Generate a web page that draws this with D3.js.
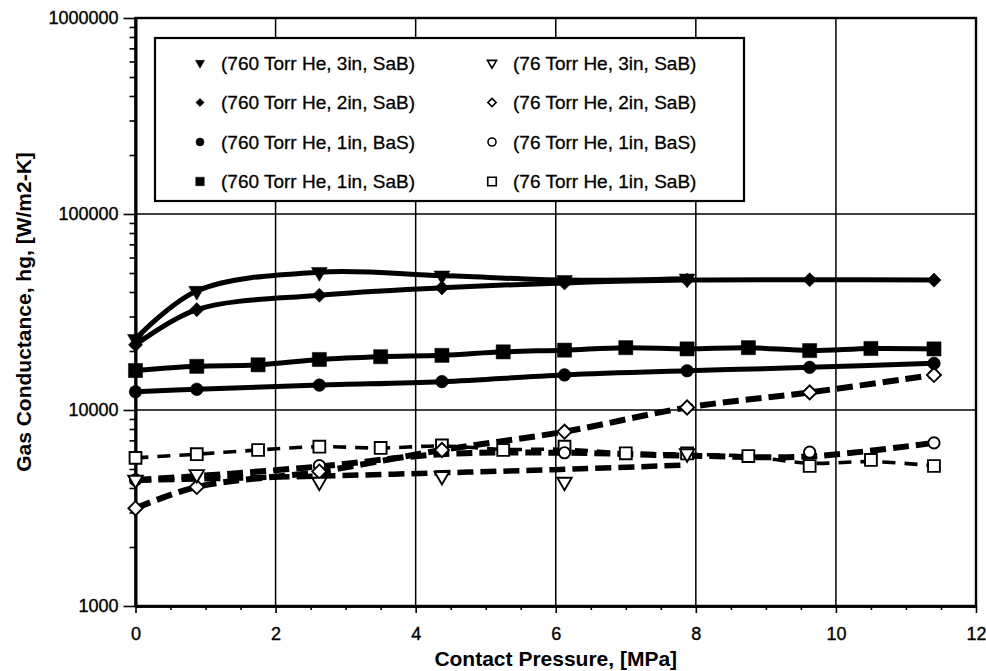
<!DOCTYPE html>
<html>
<head>
<meta charset="utf-8">
<script src="https://cdn.jsdelivr.net/npm/d3@7/dist/d3.min.js"></script>
<style>
  html, body { margin: 0; padding: 0; background: #fff; }
  svg { display: block; }
  text { font-family: "Liberation Sans", Arial, sans-serif; fill: #000; }
</style>
</head>
<body>
<script>
// Contact pressure sampling points, MPa
const pressureFine   = [0, 0.875, 1.75, 2.625, 3.5, 4.375, 5.25, 6.125, 7, 7.875, 8.75, 9.625, 10.5, 11.4];
const pressureCoarse = [0, 0.875, 2.625, 4.375, 6.125, 7.875, 9.625, 11.4];

// Gas conductance hg, W/m2-K — 760 Torr helium
const hg760_3in_SaB = [23000, 40500, 50500, 48500, 46000, 46800];
const hg760_2in_SaB = [21500, 32500, 38500, 42000, 44500, 46000, 46200, 46000];
const hg760_1in_BaS = [12400, 12750, 13400, 13950, 15100, 15850, 16500, 17300];
const hg760_1in_SaB = [15900, 16700, 17000, 18100, 18700, 19000, 19800, 20200, 20800, 20500, 20800, 20100, 20600, 20500];

// 76 Torr helium (measured points)
const hg76_3in_SaB = [4400, 4700, 4300, 4600, 4300, 6000];
const hg76_2in_SaB = [3150, 4050, 4850, 6250, 7750, 10300, 12300, 15100];
const hg76_1in_BaS = [4400, null, 5200, null, 6050, null, 6100, 6800];
const hg76_1in_SaB = [5700, 5950, 6250, 6500, 6400, 6600, 6250, 6500, 6010, 6000, 5820, 5180, 5560, 5180];

// 76 Torr helium (fitted curves)
const fit76_3in_SaB = [4380, 4450, 4600, 4780, 4980, 5240];
const fit76_2in_SaB = [3150, 4050, 4850, 6250, 7750, 10300, 12300, 15100];
const fit76_1in_BaS = [4400, 4600, 5150, 5950, 6050, 5850, 5800, 6800];
const fit76_1in_SaB = [5700, 5950, 6250, 6500, 6400, 6550, 6300, 6300, 6050, 5950, 5800, 5350, 5450, 5200];

// Axis ticks
const xTicks = [0, 2, 4, 6, 8, 10, 12];
const yTicks = [1000, 10000, 100000, 1000000];

const W = 986, H = 671;
const svg = d3.select("body").append("svg").attr("width", W).attr("height", H);
svg.append("rect").attr("width", W).attr("height", H).attr("fill", "#fff");

const x = d3.scaleLinear().domain([0, 12]).range([135.5, 976]);
const y = d3.scaleLog().domain([1000, 1000000]).range([606, 18]);

function pts(xs, ys) { return ys.map((v, i) => ({ x: xs[i], y: v })).filter(d => d.y != null); }

// series table: values + how each one is drawn
const series = [
  { name: "(76 Torr He, 1in, SaB)",  pts: pts(pressureFine, hg76_1in_SaB),   fit: pts(pressureFine, fit76_1in_SaB),   shape: "square",   filled: false, dash: "13,9", lw: 3.6 },
  { name: "(76 Torr He, 1in, BaS)",  pts: pts(pressureCoarse, hg76_1in_BaS), fit: pts(pressureCoarse, fit76_1in_BaS), shape: "circle",   filled: false, dash: "16,7", lw: 6 },
  { name: "(76 Torr He, 2in, SaB)",  pts: pts(pressureCoarse, hg76_2in_SaB), fit: pts(pressureCoarse, fit76_2in_SaB), shape: "diamond",  filled: false, dash: "16,7", lw: 6 },
  { name: "(76 Torr He, 3in, SaB)",  pts: pts(pressureCoarse, hg76_3in_SaB), fit: pts(pressureCoarse, fit76_3in_SaB), shape: "triangle", filled: false, dash: "16,7", lw: 5.5 },
  { name: "(760 Torr He, 1in, SaB)", pts: pts(pressureFine, hg760_1in_SaB),   fit: pts(pressureFine, hg760_1in_SaB),   shape: "square",   filled: true,  dash: null,   lw: 5 },
  { name: "(760 Torr He, 1in, BaS)", pts: pts(pressureCoarse, hg760_1in_BaS), fit: pts(pressureCoarse, hg760_1in_BaS), shape: "circle",   filled: true,  dash: null,   lw: 5 },
  { name: "(760 Torr He, 2in, SaB)", pts: pts(pressureCoarse, hg760_2in_SaB), fit: pts(pressureCoarse, hg760_2in_SaB), shape: "diamond",  filled: true,  dash: null,   lw: 5 },
  { name: "(760 Torr He, 3in, SaB)", pts: pts(pressureCoarse, hg760_3in_SaB), fit: pts(pressureCoarse, hg760_3in_SaB), shape: "triangle", filled: true,  dash: null,   lw: 5 }
];

// marker geometry
const markerSize = { square: 200, circle: 125, diamond: 100, triangle: 110 };
const hollowSize = { square: 140, circle: 100, diamond: 100, triangle: 90 };
const legendSize = { square: 72, circle: 50, diamond: 34, triangle: 36 };
function symbolPath(shape, size) {
  const type = shape === "circle" ? d3.symbolCircle
             : shape === "triangle" ? d3.symbolTriangle
             : d3.symbolSquare;
  return d3.symbol().type(type).size(size)();
}
function symbolRotate(shape) {
  return shape === "triangle" ? 180 : shape === "diamond" ? 45 : 0;
}

// grid
const grid = svg.append("g").attr("stroke", "#000").attr("stroke-width", 1.5);
grid.selectAll("line.v").data([2, 4, 6, 8, 10]).join("line")
  .attr("x1", d => x(d)).attr("x2", d => x(d)).attr("y1", y(1e6)).attr("y2", y(1e3));
grid.selectAll("line.h").data([1e4, 1e5]).join("line")
  .attr("y1", d => y(d)).attr("y2", d => y(d)).attr("x1", x(0)).attr("x2", x(12));

// plot frame
svg.append("rect")
  .attr("x", x(0)).attr("y", y(1e6))
  .attr("width", x(12) - x(0)).attr("height", y(1e3) - y(1e6))
  .attr("fill", "none").attr("stroke", "#000").attr("stroke-width", 2.4);

// y axis
const minorY = [];
[1000, 10000, 100000].forEach(dec => { for (let k = 2; k <= 9; k++) minorY.push(dec * k); });
svg.append("g").attr("transform", `translate(${x(0)},0)`)
  .call(d3.axisLeft(y).tickValues(minorY).tickSize(6).tickSizeOuter(0).tickFormat(""));
const yAxis = svg.append("g").attr("transform", `translate(${x(0)},0)`)
  .call(d3.axisLeft(y).tickValues(yTicks).tickSize(12).tickSizeOuter(0).tickPadding(5).tickFormat(d3.format("d")));

// x axis
const minorX = d3.range(0, 12.01, 0.5).filter(v => v % 2 !== 0);
svg.append("g").attr("transform", `translate(0,${y(1e3)})`)
  .call(d3.axisBottom(x).tickValues(minorX).tickSize(4).tickSizeOuter(0).tickFormat(""));
const xAxis = svg.append("g").attr("transform", `translate(0,${y(1e3)})`)
  .call(d3.axisBottom(x).tickValues(xTicks).tickSize(7).tickSizeOuter(0).tickPadding(14).tickFormat(d3.format("d")));

svg.selectAll(".tick text")
  .attr("font-size", 18).attr("font-family", "Liberation Sans, Arial, sans-serif")
  .attr("stroke", "#000").attr("stroke-width", 0.35);
svg.selectAll(".domain").attr("stroke", "#000").attr("stroke-width", 2.6);
svg.selectAll(".tick line").attr("stroke", "#000").attr("stroke-width", 1.6);

// axis titles
svg.append("text")
  .attr("x", (x(0) + x(12)) / 2).attr("y", 666)
  .attr("text-anchor", "middle").attr("font-size", 21).attr("font-weight", "bold")
  .text("Contact Pressure, [MPa]");
svg.append("text")
  .attr("transform", `translate(31,${(y(1e3) + y(1e6)) / 2}) rotate(-90)`)
  .attr("text-anchor", "middle").attr("font-size", 21).attr("font-weight", "bold")
  .text("Gas Conductance, hg, [W/m2-K]");

// curves
const line = d3.line().x(d => x(d.x)).y(d => y(d.y)).curve(d3.curveCatmullRom.alpha(0.5));
const plot = svg.append("g");
series.forEach(s => {
  plot.append("path").datum(s.fit)
    .attr("d", line)
    .attr("fill", "none").attr("stroke", "#000")
    .attr("stroke-width", s.lw)
    .attr("stroke-dasharray", s.dash)
    .attr("stroke-linecap", "butt");
});

// markers
series.forEach(s => {
  const size = s.filled ? markerSize[s.shape] : hollowSize[s.shape];
  plot.append("g").selectAll("path").data(s.pts).join("path")
    .attr("transform", d => `translate(${x(d.x)},${y(d.y)}) rotate(${symbolRotate(s.shape)})`)
    .attr("d", symbolPath(s.shape, size))
    .attr("fill", s.filled ? "#000" : "#fff")
    .attr("stroke", "#000")
    .attr("stroke-width", s.filled ? 0.5 : 1.9);
});

// legend
const legendOrder = [
  "(760 Torr He, 3in, SaB)", "(760 Torr He, 2in, SaB)", "(760 Torr He, 1in, BaS)", "(760 Torr He, 1in, SaB)",
  "(76 Torr He, 3in, SaB)", "(76 Torr He, 2in, SaB)", "(76 Torr He, 1in, BaS)", "(76 Torr He, 1in, SaB)"
];
const legend = svg.append("g");
legend.append("rect")
  .attr("x", 155).attr("y", 38).attr("width", 589).attr("height", 163)
  .attr("fill", "#fff").attr("stroke", "#000").attr("stroke-width", 2.2);
legendOrder.forEach((name, i) => {
  const s = series.find(t => t.name === name);
  const col = Math.floor(i / 4), row = i % 4;
  const sx = col === 0 ? 200 : 492;
  const ty = 63 + row * 39.5;
  legend.append("path")
    .attr("transform", `translate(${sx},${ty}) rotate(${symbolRotate(s.shape)})`)
    .attr("d", symbolPath(s.shape, legendSize[s.shape]))
    .attr("fill", s.filled ? "#000" : "#fff")
    .attr("stroke", "#000").attr("stroke-width", s.filled ? 0.5 : 1.6);
  legend.append("text")
    .attr("x", sx + 21).attr("y", ty).attr("dy", "0.35em")
    .attr("font-size", 19)
    .attr("stroke", "#000").attr("stroke-width", 0.3)
    .text(name);
});
</script>
</body>
</html>
